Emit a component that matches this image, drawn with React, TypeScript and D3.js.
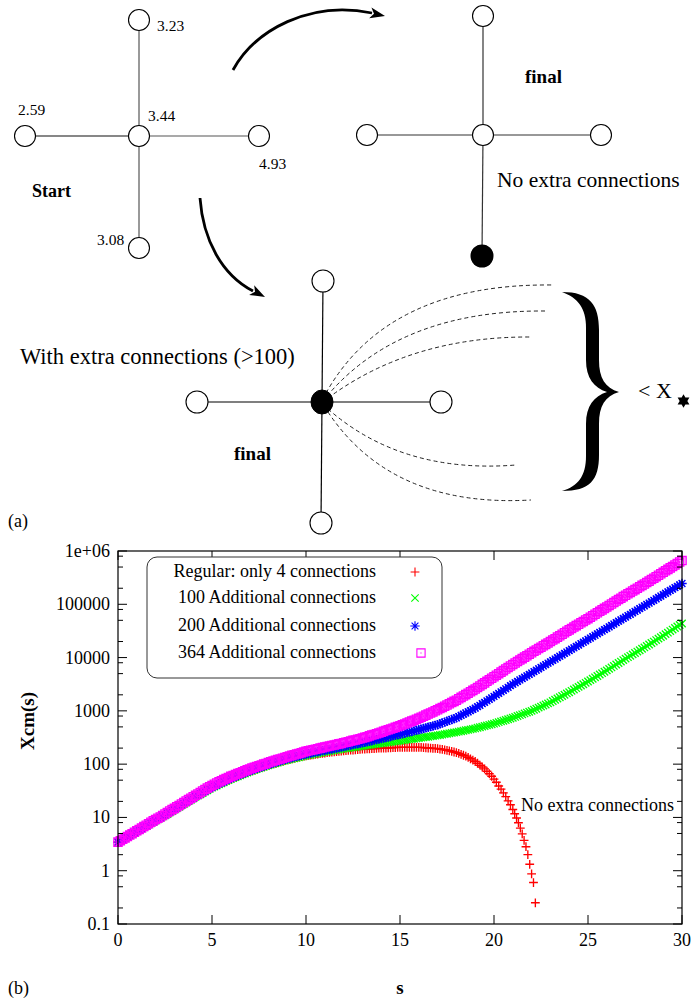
import React from "react";
import * as d3 from "d3";

// ---------- data ----------
const sGrid = [
  0, 0.125, 0.25, 0.375, 0.5, 0.625, 0.75, 0.875, 1, 1.125, 1.25, 1.375, 1.5, 1.625, 1.75, 1.875,
  2, 2.125, 2.25, 2.375, 2.5, 2.625, 2.75, 2.875, 3, 3.125, 3.25, 3.375, 3.5, 3.625, 3.75, 3.875,
  4, 4.125, 4.25, 4.375, 4.5, 4.625, 4.75, 4.875, 5, 5.125, 5.25, 5.375, 5.5, 5.625, 5.75, 5.875,
  6, 6.125, 6.25, 6.375, 6.5, 6.625, 6.75, 6.875, 7, 7.125, 7.25, 7.375, 7.5, 7.625, 7.75, 7.875,
  8, 8.125, 8.25, 8.375, 8.5, 8.625, 8.75, 8.875, 9, 9.125, 9.25, 9.375, 9.5, 9.625, 9.75, 9.875,
  10, 10.125, 10.25, 10.375, 10.5, 10.625, 10.75, 10.875, 11, 11.125, 11.25, 11.375, 11.5, 11.625, 11.75, 11.875,
  12, 12.125, 12.25, 12.375, 12.5, 12.625, 12.75, 12.875, 13, 13.125, 13.25, 13.375, 13.5, 13.625, 13.75, 13.875,
  14, 14.125, 14.25, 14.375, 14.5, 14.625, 14.75, 14.875, 15, 15.125, 15.25, 15.375, 15.5, 15.625, 15.75, 15.875,
  16, 16.125, 16.25, 16.375, 16.5, 16.625, 16.75, 16.875, 17, 17.125, 17.25, 17.375, 17.5, 17.625, 17.75, 17.875,
  18, 18.125, 18.25, 18.375, 18.5, 18.625, 18.75, 18.875, 19, 19.125, 19.25, 19.375, 19.5, 19.625, 19.75, 19.875,
  20, 20.125, 20.25, 20.375, 20.5, 20.625, 20.75, 20.875, 21, 21.125, 21.25, 21.375, 21.5, 21.625, 21.75, 21.875,
  22, 22.125, 22.25, 22.375, 22.5, 22.625, 22.75, 22.875, 23, 23.125, 23.25, 23.375, 23.5, 23.625, 23.75, 23.875,
  24, 24.125, 24.25, 24.375, 24.5, 24.625, 24.75, 24.875, 25, 25.125, 25.25, 25.375, 25.5, 25.625, 25.75, 25.875,
  26, 26.125, 26.25, 26.375, 26.5, 26.625, 26.75, 26.875, 27, 27.125, 27.25, 27.375, 27.5, 27.625, 27.75, 27.875,
  28, 28.125, 28.25, 28.375, 28.5, 28.625, 28.75, 28.875, 29, 29.125, 29.25, 29.375, 29.5, 29.625, 29.75, 29.875,
  30,
];

// Regular: only 4 connections (s = 0 .. 21 on sGrid)
const regularValues = [
  3.44, 3.65, 3.87, 4.11, 4.35, 4.62, 4.89, 5.19, 5.5, 5.83, 6.17, 6.54, 6.92, 7.34, 7.76, 8.23,
  8.71, 9.24, 9.77, 10.4, 11.0, 11.6, 12.3, 13.1, 14.0, 14.9, 15.8, 16.8, 17.8, 19.0, 20.2, 21.5,
  22.9, 24.3, 25.7, 27.2, 28.8, 30.6, 32.4, 34.3, 36.3, 38.0, 39.8, 41.7, 43.7, 45.8, 47.9, 50.2,
  52.5, 54.7, 56.9, 59.3, 61.7, 64.2, 66.8, 69.6, 72.4, 75.0, 77.6, 80.4, 83.2, 86.1, 89.1, 92.3,
  95.5, 98.3, 101, 104, 107, 110, 114, 117, 120, 123, 126, 129, 132, 135, 138, 141,
  143, 146, 148, 150, 152, 155, 157, 160, 162, 164, 166, 168, 170, 172, 174, 176,
  178, 180, 181, 183, 184, 186, 187, 189, 191, 192, 193, 194, 195, 196, 197, 199,
  200, 201, 201, 202, 203, 204, 205, 206, 207, 207, 207, 207, 207, 207, 207, 207,
  207, 206, 204, 203, 201, 200, 198, 197, 195, 192, 189, 186, 182, 178, 174, 169,
  164, 159, 153, 147, 141, 134, 126, 119, 112, 104, 95.5, 88.4, 81.3, 73.7, 66.1, 59.3,
  52.5, 45.7, 38.9, 33.9, 28.8, 24.6, 20.4, 17.3, 14.1,
];
const regularTailS = [21.1, 21.2, 21.3, 21.4, 21.5, 21.6, 21.7, 21.8, 21.9, 22.0, 22.1, 22.2];
const regularTailValues = [11.7, 9.77, 7.94, 6.31, 4.9, 3.72, 2.82, 2.0, 1.32, 0.87, 0.6, 0.25];

// 100 additional connections
const add100Values = [
  3.44, 3.65, 3.87, 4.11, 4.35, 4.62, 4.89, 5.19, 5.5, 5.83, 6.17, 6.54, 6.92, 7.34, 7.76, 8.23,
  8.71, 9.24, 9.77, 10.4, 11.0, 11.6, 12.3, 13.1, 14.0, 14.9, 15.8, 16.8, 17.8, 19.0, 20.2, 21.5,
  22.9, 24.3, 25.7, 27.2, 28.8, 30.6, 32.4, 34.3, 36.3, 38.0, 39.8, 41.7, 43.7, 45.8, 47.9, 50.2,
  52.5, 54.7, 56.9, 59.3, 61.7, 64.2, 66.8, 69.6, 72.4, 75.0, 77.6, 80.4, 83.2, 86.1, 89.1, 92.3,
  95.5, 98.3, 101, 104, 107, 110, 114, 117, 120, 123, 126, 129, 132, 135, 138, 141,
  145, 148, 150, 154, 157, 160, 163, 167, 170, 173, 176, 179, 182, 185, 188, 192,
  195, 198, 201, 204, 207, 210, 213, 216, 219, 222, 225, 229, 232, 236, 239, 242,
  245, 249, 253, 257, 260, 264, 268, 272, 275, 280, 284, 288, 292, 296, 300, 305,
  309, 314, 318, 323, 327, 332, 337, 342, 347, 353, 359, 366, 372, 379, 385, 392,
  398, 407, 415, 424, 432, 441, 449, 459, 468, 481, 493, 506, 519, 533, 547, 561,
  575, 594, 613, 633, 653, 675, 696, 719, 741, 770, 799, 830, 861, 895, 928, 964,
  1000, 1048, 1096, 1149, 1202, 1260, 1318, 1382, 1445, 1529, 1613, 1706, 1799, 1903, 2007, 2123,
  2239, 2376, 2512, 2665, 2818, 2990, 3162, 3355, 3548, 3777, 4005, 4262, 4519, 4810, 5100, 5427,
  5754, 6143, 6531, 6972, 7413, 7914, 8414, 8982, 9550, 10170, 10780, 11470, 12160, 12950, 13730, 14610,
  15490, 16540, 17580, 18770, 19950, 21300, 22650, 24180, 25700, 27530, 29350, 31430, 33500, 35870, 38230, 40940,
  43650,
];

// 200 additional connections
const add200Values = [
  3.44, 3.66, 3.88, 4.13, 4.38, 4.66, 4.93, 5.25, 5.56, 5.9, 6.24, 6.63, 7.01, 7.44, 7.87, 8.36,
  8.85, 9.42, 9.98, 10.6, 11.2, 12.0, 12.7, 13.5, 14.3, 15.3, 16.2, 17.3, 18.3, 19.5, 20.7, 22.1,
  23.4, 24.9, 26.3, 27.9, 29.5, 31.3, 33.1, 35.2, 37.2, 39.0, 40.8, 42.9, 45.0, 47.2, 49.4, 51.9,
  54.3, 56.6, 58.9, 61.4, 63.8, 66.5, 69.2, 72.1, 75.0, 77.7, 80.4, 83.3, 86.1, 89.2, 92.3, 95.6,
  98.9, 102, 105, 109, 112, 116, 119, 123, 126, 130, 133, 137, 140, 144, 147, 151,
  155, 158, 161, 165, 168, 172, 175, 179, 182, 186, 189, 193, 197, 201, 205, 210,
  214, 219, 223, 228, 232, 237, 241, 246, 251, 257, 263, 269, 275, 282, 288, 295,
  302, 309, 316, 324, 331, 339, 347, 355, 363, 372, 381, 391, 400, 411, 421, 432,
  442, 455, 467, 480, 493, 507, 520, 535, 550, 571, 592, 615, 638, 663, 688, 715,
  741, 782, 822, 867, 912, 962, 1012, 1067, 1122, 1198, 1274, 1360, 1445, 1543, 1641, 1752,
  1862, 1994, 2126, 2277, 2427, 2599, 2770, 2966, 3162, 3365, 3568, 3798, 4027, 4286, 4545, 4837,
  5129, 5459, 5788, 6160, 6531, 6951, 7370, 7844, 8318, 8853, 9387, 9989, 10590, 11270, 11950, 12720,
  13490, 14360, 15220, 16200, 17180, 18290, 19390, 20640, 21880, 23290, 24690, 26280, 27860, 29650, 31440, 33460,
  35480, 37770, 40050, 42620, 45190, 48100, 51000, 54270, 57540, 61240, 64940, 69110, 73280, 77990, 82690, 88010,
  93330, 99320, 105300, 112100, 118900, 126500, 134100, 142800, 151400, 161100, 170800, 181800, 192800, 205200, 217600, 231600,
  245500,
];

// 364 additional connections
const add364Values = [
  3.44, 3.66, 3.89, 4.13, 4.37, 4.66, 4.95, 5.28, 5.62, 5.96, 6.31, 6.73, 7.16, 7.64, 8.13, 8.62,
  9.12, 9.66, 10.2, 10.9, 11.6, 12.4, 13.2, 14.0, 14.8, 15.8, 16.8, 17.9, 19.1, 20.3, 21.6, 23.0,
  24.5, 26.0, 27.5, 29.4, 31.3, 33.4, 35.5, 37.6, 39.8, 42.0, 44.2, 46.6, 49.0, 51.3, 53.7, 56.3,
  58.9, 61.3, 63.8, 66.5, 69.2, 72.1, 75.0, 78.1, 81.3, 84.2, 87.1, 90.2, 93.3, 96.6, 100, 103,
  107, 111, 115, 118, 122, 125, 129, 133, 138, 142, 146, 150, 155, 159, 164, 169,
  174, 178, 182, 186, 191, 195, 200, 204, 209, 214, 219, 224, 229, 234, 240, 245,
  251, 257, 263, 271, 279, 285, 292, 300, 309, 318, 327, 339, 351, 361, 372, 385,
  398, 412, 427, 442, 457, 473, 490, 507, 525, 547, 569, 593, 617, 642, 668, 696,
  724, 759, 794, 832, 871, 913, 955, 1001, 1047, 1104, 1161, 1224, 1288, 1358, 1429, 1507,
  1585, 1687, 1789, 1903, 2018, 2148, 2278, 2424, 2570, 2752, 2935, 3142, 3350, 3586, 3823, 4094,
  4365, 4675, 4985, 5337, 5689, 6091, 6494, 6953, 7413, 7913, 8414, 8982, 9550, 10200, 10840, 11570,
  12300, 13090, 13880, 14770, 15670, 16680, 17680, 18820, 19950, 21300, 22650, 24180, 25700, 27430, 29170, 31140,
  33110, 35240, 37370, 39770, 42170, 44880, 47590, 50640, 53700, 57330, 60950, 65070, 69180, 73850, 78520, 83830,
  89130, 95170, 101200, 108000, 114800, 122600, 130300, 139100, 147900, 157400, 166900, 177700, 188400, 200500, 212600, 226300,
  239900, 256100, 272300, 290700, 309000, 329900, 350800, 374500, 398100, 425000, 451900, 482400, 512900, 547500, 582100, 621400,
  660700,
];

const seriesLabels = [
  "Regular: only 4 connections",
  "100 Additional connections",
  "200 Additional connections",
  "364 Additional connections",
];

const xTickValues = [0, 5, 10, 15, 20, 25, 30];
const yTickValues = [0.1, 1, 10, 100, 1000, 10000, 100000, 1000000];
const yTickLabels = ["0.1", "1", "10", "100", "1000", "10000", "100000", "1e+06"];
const yMinorMultipliers = [2, 5, 8];

// Panel (a) node labels
const startLabels = ["3.23", "2.59", "3.44", "4.93", "3.08"];

// ---------- layout ----------
const W = 694;
const H = 1004;
const P = { left: 118, right: 682, top: 551, bottom: 924 };
const SERIF = '"Liberation Serif", "Times New Roman", Times, serif';

const xScale = d3.scaleLinear().domain([0, 30]).range([P.left, P.right]);
const yScale = d3.scaleLog().domain([0.1, 1e6]).range([P.bottom, P.top]);

const MARKS: Record<string, string> = {
  plus: "M-4.4,0H4.4M0,-4.4V4.4",
  cross: "M-3.7,-3.7L3.7,3.7M-3.7,3.7L3.7,-3.7",
  star: "M-4.7,0H4.7M0,-4.7V4.7M-3.4,-3.4L3.4,3.4M-3.4,3.4L3.4,-3.4",
  square: "M-4.1,-4.1H4.1V4.1H-4.1ZM-0.6,0H0.6",
};

const series = [
  {
    label: seriesLabels[0],
    color: "#ff0000",
    mark: "plus",
    s: sGrid.slice(0, regularValues.length).concat(regularTailS),
    v: regularValues.concat(regularTailValues),
  },
  { label: seriesLabels[1], color: "#00ff00", mark: "cross", s: sGrid, v: add100Values },
  { label: seriesLabels[2], color: "#0000ff", mark: "star", s: sGrid, v: add200Values },
  { label: seriesLabels[3], color: "#ff00ff", mark: "square", s: sGrid, v: add364Values },
];

function arrowHead(tx: number, ty: number, dx: number, dy: number, len: number, half: number) {
  const n = Math.hypot(dx, dy);
  const ux = dx / n;
  const uy = dy / n;
  const bx = tx - ux * len;
  const by = ty - uy * len;
  const mx = tx - ux * len * 0.75;
  const my = ty - uy * len * 0.75;
  return `M${tx},${ty}L${bx - uy * half},${by + ux * half}L${mx},${my}L${bx + uy * half},${by - ux * half}Z`;
}

function Graph({
  cx,
  cy,
  nodes,
  filled,
  lineColor,
  r,
}: {
  cx: number;
  cy: number;
  nodes: { x: number; y: number; fill?: boolean; color?: string }[];
  filled?: boolean;
  lineColor: string;
  r: number;
}) {
  return (
    <g>
      {nodes.map((n, i) => (
        <line key={"l" + i} x1={cx} y1={cy} x2={n.x} y2={n.y} stroke={n.color || lineColor} strokeWidth={1.2} />
      ))}
      {nodes.map((n, i) => (
        <circle key={"c" + i} cx={n.x} cy={n.y} r={r} fill={n.fill ? "#000" : "#fff"} stroke="#000" strokeWidth={1.1} />
      ))}
      {filled ? (
        <ellipse cx={cx} cy={cy} rx={11} ry={12} fill="#000" stroke="#000" />
      ) : (
        <circle cx={cx} cy={cy} r={r} fill="#fff" stroke="#000" strokeWidth={1.1} />
      )}
    </g>
  );
}

function PanelA() {
  const star6 = (cx: number, cy: number, r: number) => {
    const a = r * Math.cos(Math.PI / 6);
    return (
      `M${cx},${cy - r}L${cx + a},${cy + r / 2}L${cx - a},${cy + r / 2}Z` +
      `M${cx},${cy + r}L${cx - a},${cy - r / 2}L${cx + a},${cy - r / 2}Z`
    );
  };
  const arcs = [
    "M326,393 Q388,283 553,285",
    "M327,396 Q400,310 545,311",
    "M328,398 Q412,336 532,337",
    "M328,409 Q402,474 516,465",
    "M328,412 Q392,508 531,500",
  ];
  return (
    <g fontFamily={SERIF}>
      {/* Start graph */}
      <Graph
        cx={139}
        cy={136}
        r={10.5}
        lineColor="#555"
        nodes={[
          { x: 139, y: 20 },
          { x: 25, y: 136, color: "#111" },
          { x: 259, y: 136 },
          { x: 139, y: 248 },
        ]}
      />
      <text x={157} y={31} fontSize={15.5}>{startLabels[0]}</text>
      <text x={18} y={115} fontSize={15.5}>{startLabels[1]}</text>
      <text x={148} y={121} fontSize={15.5}>{startLabels[2]}</text>
      <text x={259} y={169} fontSize={15.5}>{startLabels[3]}</text>
      <text x={97} y={245} fontSize={15.5}>{startLabels[4]}</text>
      <text x={32} y={197} fontSize={18} fontWeight="bold">Start</text>

      {/* final graph, no extra connections */}
      <Graph
        cx={483}
        cy={135}
        r={10.5}
        lineColor="#333"
        nodes={[
          { x: 483, y: 16 },
          { x: 367, y: 135 },
          { x: 601, y: 135 },
          { x: 482, y: 256, fill: true },
        ]}
      />
      <circle cx={482} cy={256} r={11.5} fill="#000" />
      <text x={525} y={83} fontSize={19} fontWeight="bold">final</text>
      <text x={497} y={187} fontSize={21.5}>No extra connections</text>

      {/* final graph with extra connections */}
      {arcs.map((d, i) => (
        <path key={i} d={d} fill="none" stroke="#222" strokeWidth={1} strokeDasharray="4 3" />
      ))}
      <Graph
        cx={322}
        cy={402}
        r={11}
        filled
        lineColor="#000"
        nodes={[
          { x: 323, y: 281 },
          { x: 197, y: 402 },
          { x: 441, y: 402 },
          { x: 321, y: 523 },
        ]}
      />
      <text x={20} y={364} fontSize={22.5}>With extra connections (&gt;100)</text>
      <text x={234} y={460} fontSize={19} fontWeight="bold">final</text>

      {/* curly brace */}
      <path
        d="M562,292 C590,292 599,305 599,330 L599,360 C599,378 605,388 619,392 C605,396 599,406 599,424 L599,455 C599,480 590,491 562,491 C578,486 586,476 586,456 L586,424 C586,406 594,396 607,392 C594,388 586,378 586,360 L586,328 C586,308 578,298 562,292 Z"
        fill="#000"
      />
      <text x={638} y={398} fontSize={22}>&lt; X</text>
      <path d={star6(683.5, 401, 6.8)} fill="#000" />

      {/* arrows */}
      <path d="M233,70 C255,30 310,0 372,13" fill="none" stroke="#000" strokeWidth={2.8} />
      <path d={arrowHead(385, 16, 62, 13, 15, 5.5)} fill="#000" />
      <path d="M200,198 C203,240 222,275 253,291" fill="none" stroke="#000" strokeWidth={2.8} />
      <path d={arrowHead(265, 297, 31, 16, 15, 5.5)} fill="#000" />

      <text x={8} y={527} fontSize={18}>(a)</text>
    </g>
  );
}

function PanelB() {
  const minorTicks: number[] = [];
  for (let k = -1; k < 6; k++) {
    for (const m of yMinorMultipliers) minorTicks.push(m * Math.pow(10, k));
  }
  return (
    <g fontFamily={SERIF}>
      {/* data */}
      {series.map((se, si) => (
        <g key={si} stroke={se.color} fill="none" strokeWidth={1.35}>
          {se.s.map((s, i) => (
            <path key={i} d={MARKS[se.mark]} transform={`translate(${xScale(s)},${yScale(se.v[i])})`} />
          ))}
        </g>
      ))}

      {/* frame */}
      <rect x={P.left} y={P.top} width={P.right - P.left} height={P.bottom - P.top} fill="none" stroke="#000" strokeWidth={1.2} />

      {/* y ticks */}
      {yTickValues.map((v, i) => {
        const yy = yScale(v);
        return (
          <g key={"yt" + i}>
            <line x1={P.left} x2={P.left + 9} y1={yy} y2={yy} stroke="#000" />
            <line x1={P.right} x2={P.right - 9} y1={yy} y2={yy} stroke="#000" />
            <text x={110} y={yy + 6} fontSize={18} textAnchor="end">{yTickLabels[i]}</text>
          </g>
        );
      })}
      {minorTicks.map((v, i) => {
        const yy = yScale(v);
        return (
          <g key={"ym" + i}>
            <line x1={P.left} x2={P.left + 5} y1={yy} y2={yy} stroke="#000" />
            <line x1={P.right} x2={P.right - 5} y1={yy} y2={yy} stroke="#000" />
          </g>
        );
      })}

      {/* x ticks */}
      {xTickValues.map((v, i) => {
        const xx = xScale(v);
        return (
          <g key={"xt" + i}>
            <line x1={xx} x2={xx} y1={P.bottom} y2={P.bottom - 9} stroke="#000" />
            <line x1={xx} x2={xx} y1={P.top} y2={P.top + 9} stroke="#000" />
            <text x={xx} y={946} fontSize={18} textAnchor="middle">{v}</text>
          </g>
        );
      })}

      {/* labels */}
      <text transform="translate(34,721) rotate(-90)" fontSize={19} fontWeight="bold" textAnchor="middle">Xcm(s)</text>
      <text x={400} y={994} fontSize={19} fontWeight="bold" textAnchor="middle">s</text>
      <text x={8} y={994} fontSize={18}>(b)</text>
      <text x={521} y={811} fontSize={18}>No extra connections</text>

      {/* legend */}
      <rect x={147} y={557} width={295} height={121} rx={10} ry={10} fill="#fff" stroke="#333" strokeWidth={1} />
      {series.map((se, i) => {
        const baselines = [577, 603, 631, 658];
        const symX = [415, 415, 415, 421];
        return (
          <g key={"lg" + i}>
            <text x={376} y={baselines[i]} fontSize={18} textAnchor="end">{se.label}</text>
            <path d={MARKS[se.mark]} transform={`translate(${symX[i]},${baselines[i] - 5})`} stroke={se.color} fill="none" strokeWidth={1.1} />
          </g>
        );
      })}
    </g>
  );
}

export default function App() {
  return (
    <svg
      width={W}
      height={H}
      viewBox={`0 0 ${W} ${H}`}
      style={{ position: "absolute", left: 0, top: 0, background: "#fff" }}
    >
      <rect x={0} y={0} width={W} height={H} fill="#fff" />
      <PanelA />
      <PanelB />
    </svg>
  );
}
